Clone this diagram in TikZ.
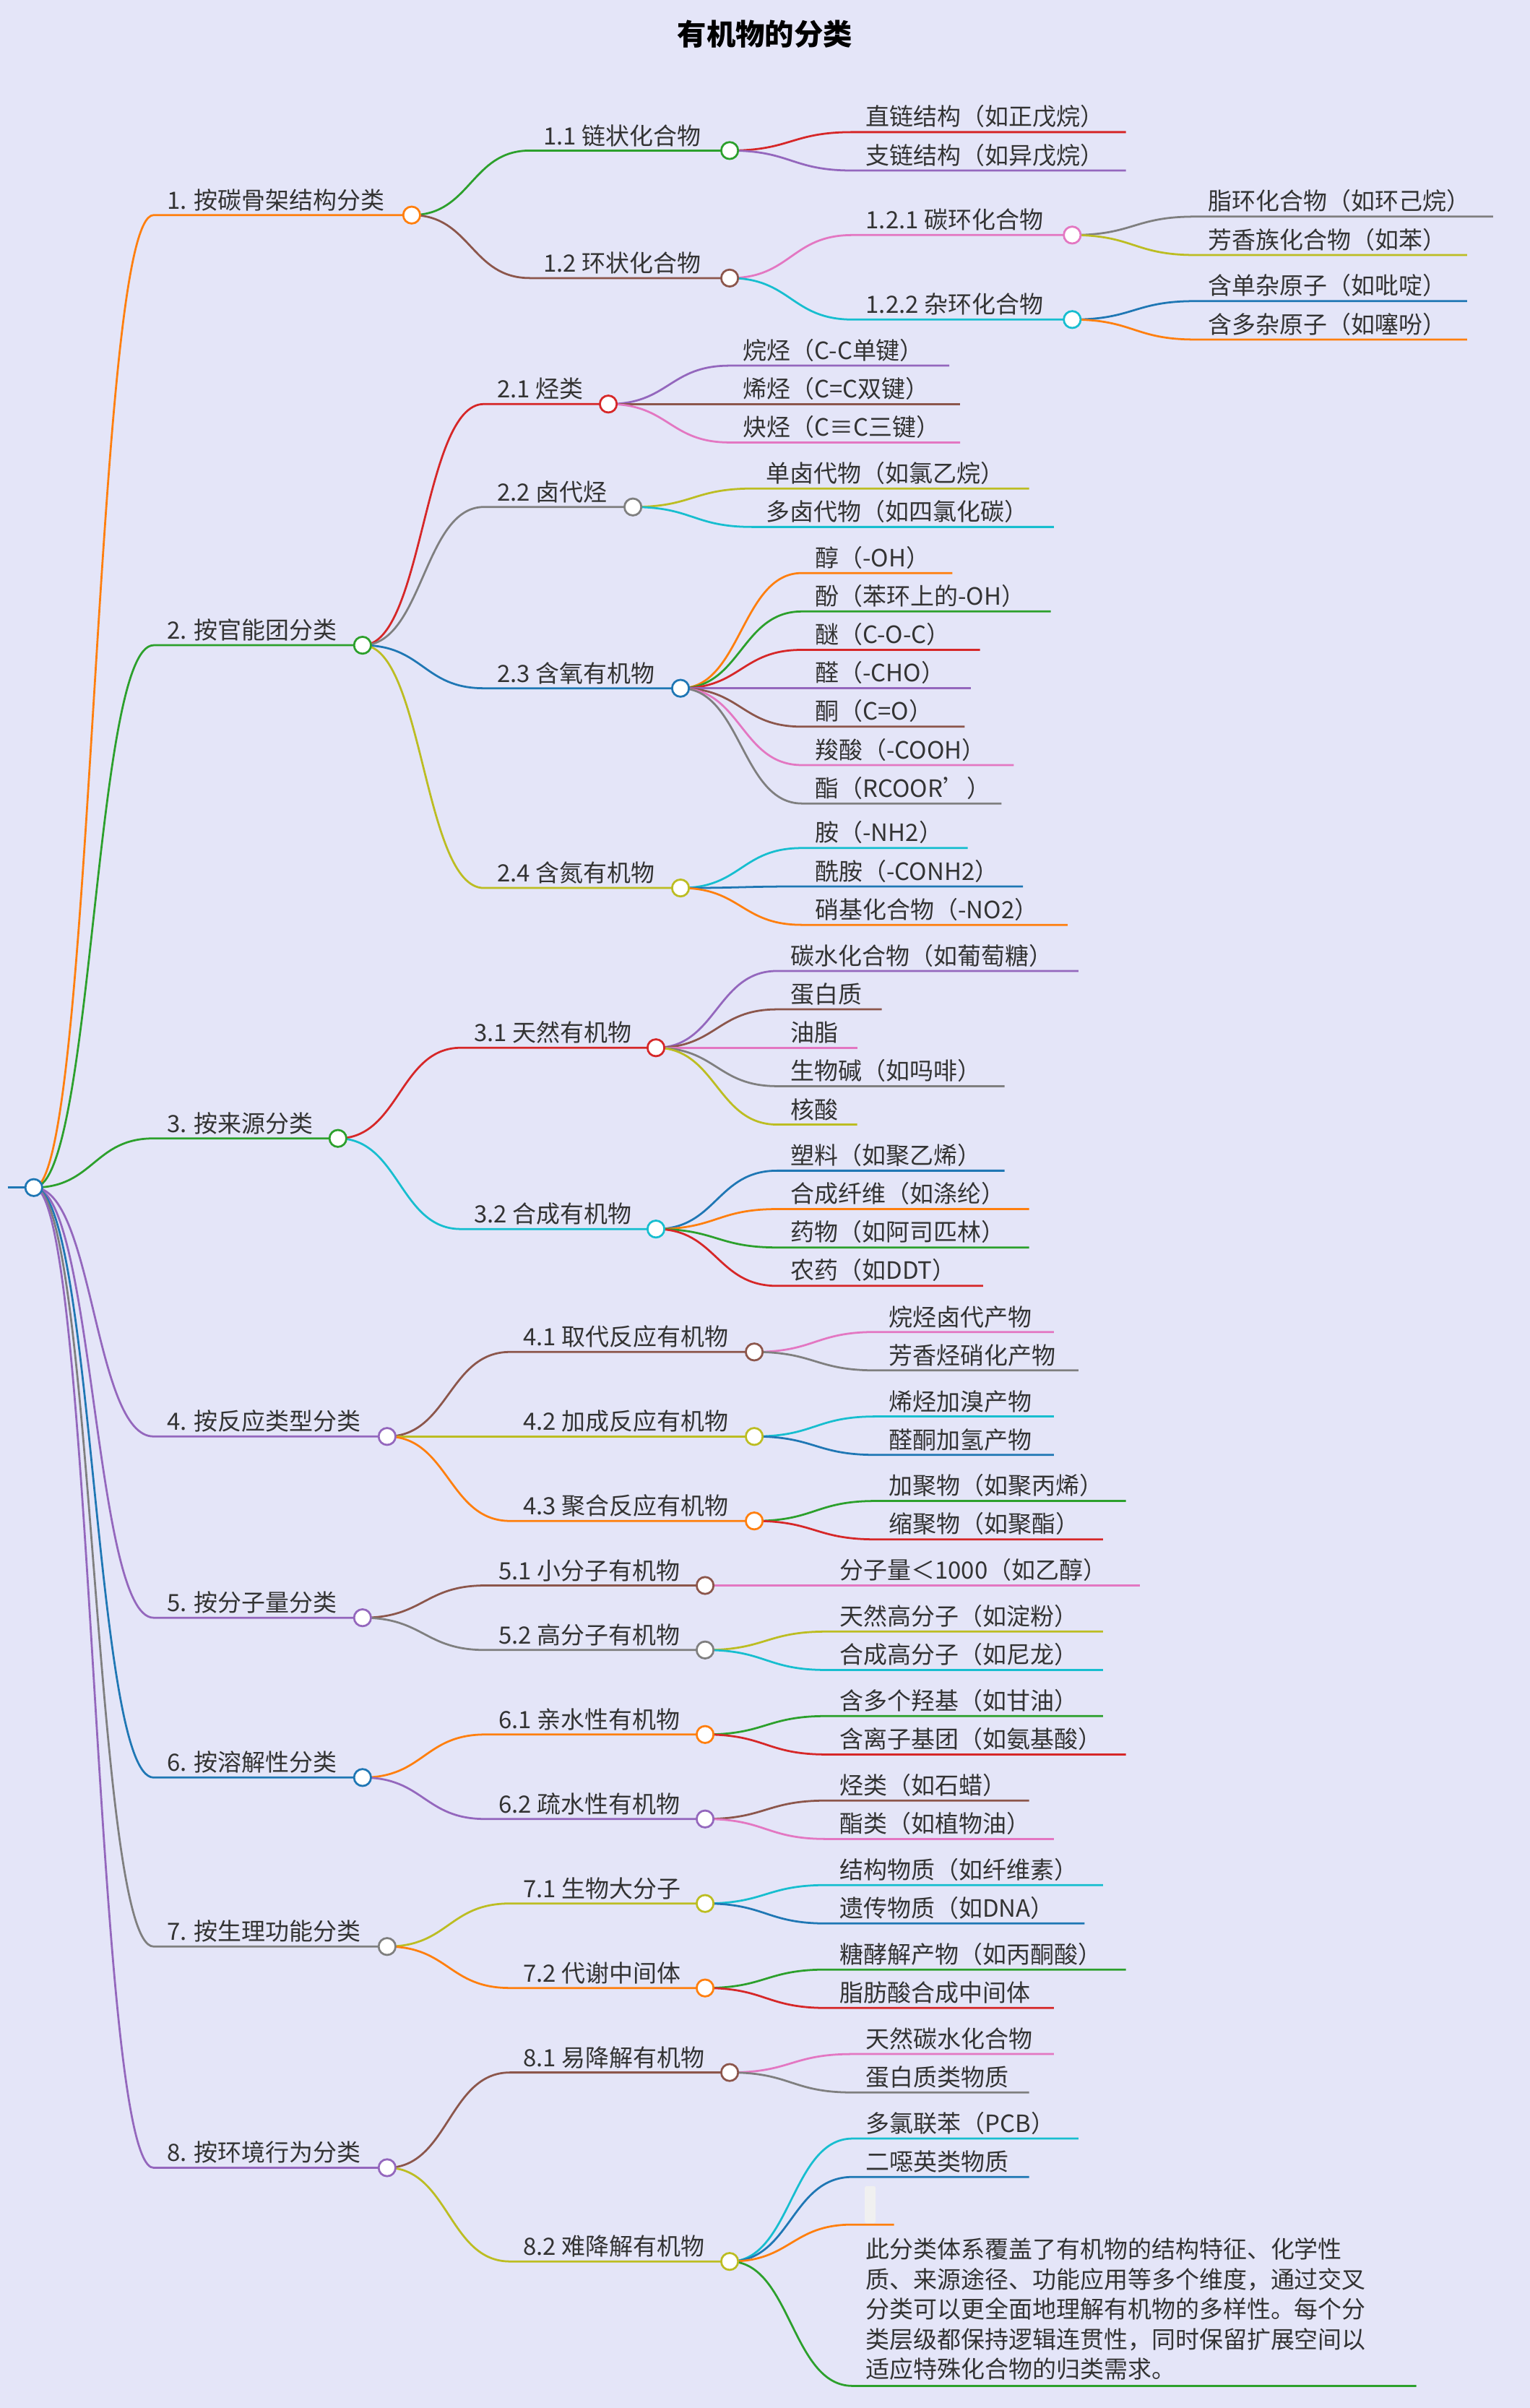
\documentclass[tikz,border=0pt]{standalone}
\usepackage{fontspec}
\setmainfont{Noto Sans CJK SC}
\usetikzlibrary{calc}
\definecolor{bg}{HTML}{E4E5F8}
\definecolor{cO}{HTML}{FF7F0E}\definecolor{cG}{HTML}{2CA02C}\definecolor{cR}{HTML}{D62728}
\definecolor{cP}{HTML}{9467BD}\definecolor{cB}{HTML}{8C564B}\definecolor{cK}{HTML}{E377C2}
\definecolor{cY}{HTML}{7F7F7F}\definecolor{cL}{HTML}{BCBD22}\definecolor{cC}{HTML}{17BECF}
\definecolor{cU}{HTML}{1F77B4}\definecolor{tx}{HTML}{333333}
\tikzset{lnk/.style={line width=1.3pt},lbl/.style={anchor=south west,inner sep=2.5pt,text=tx,font=\fontsize{15.5}{18}\selectfont},
 dot/.style={circle,fill=white,line width=1.3pt,inner sep=0pt,minimum size=11pt}}
\newcommand\mn[7]{%
 \coordinate (#1s) at (#3,#5);
 \coordinate (#1) at (#4,#5);
 \coordinate (#1m) at ($(#2)!.5!(#1s)$);
 \draw[lnk,#6] (#2) .. controls (#1m |- #2) and (#1m |- #1s) .. (#1s) -- (#1);
 \node[lbl] (#1t) at ($(#1s)+(6,0)$) {#7};}
\newcommand\mc[2]{\node[dot,draw=#2] at (#1) {};}
\begin{document}
\begin{tikzpicture}[x=1pt,y=-1pt]
\fill[bg] (0,0) rectangle (996,1567.4);
\useasboundingbox (0,0) rectangle (996,1567.4);
\node[font=\fontsize{19}{22}\selectfont\bfseries,text=black] (title) at (498,22) {有机物的分类};
\coordinate (r0) at (5,773); \coordinate (r) at (22,773);
\draw[lnk,cU] (r0) -- (r);
% level 1
\mn{a}{r}{100}{268}{140}{cO}{1. 按碳骨架结构分类}
\mn{b}{r}{100}{236}{420}{cG}{2. 按官能团分类}
\mn{c}{r}{100}{220}{741}{cG}{3. 按来源分类}
\mn{d}{r}{100}{252}{935}{cP}{4. 按反应类型分类}
\mn{e}{r}{100}{236}{1053}{cP}{5. 按分子量分类}
\mn{f}{r}{100}{236}{1157}{cU}{6. 按溶解性分类}
\mn{g}{r}{100}{252}{1267}{cY}{7. 按生理功能分类}
\mn{h}{r}{100}{252}{1411}{cP}{8. 按环境行为分类}
% 1
\mn{a1}{a}{345}{475}{98}{cG}{1.1 链状化合物}
\mn{a2}{a}{345}{475}{181}{cB}{1.2 环状化合物}
\mn{a11}{a1}{555}{733}{86}{cR}{直链结构（如正戊烷）}
\mn{a12}{a1}{555}{733}{111}{cP}{支链结构（如异戊烷）}
\mn{a21}{a2}{555}{698}{153}{cK}{1.2.1 碳环化合物}
\mn{a22}{a2}{555}{698}{208}{cC}{1.2.2 杂环化合物}
\mn{a211}{a21}{778}{972}{141}{cY}{脂环化合物（如环己烷）}
\mn{a212}{a21}{778}{955}{166}{cL}{芳香族化合物（如苯）}
\mn{a221}{a22}{778}{955}{196}{cU}{含单杂原子（如吡啶）}
\mn{a222}{a22}{778}{955}{221}{cO}{含多杂原子（如噻吩）}
% 2
\mn{b1}{b}{315}{396}{263}{cR}{2.1 烃类}
\mn{b2}{b}{315}{412}{330}{cY}{2.2 卤代烃}
\mn{b3}{b}{315}{443}{448}{cU}{2.3 含氧有机物}
\mn{b4}{b}{315}{443}{578}{cL}{2.4 含氮有机物}
\mn{b11}{b1}{475}{618}{238}{cP}{烷烃（C-C单键）}
\mn{b12}{b1}{475}{625}{263}{cB}{烯烃（C=C双键）}
\mn{b13}{b1}{475}{625}{288}{cK}{炔烃（C≡C三键）}
\mn{b21}{b2}{490}{670}{318}{cL}{单卤代物（如氯乙烷）}
\mn{b22}{b2}{490}{686}{343}{cC}{多卤代物（如四氯化碳）}
\mn{b31}{b3}{522}{620}{373}{cO}{醇（-OH）}
\mn{b32}{b3}{522}{684}{398}{cG}{酚（苯环上的-OH）}
\mn{b33}{b3}{522}{638}{423}{cR}{醚（C-O-C）}
\mn{b34}{b3}{522}{632}{448}{cP}{醛（-CHO）}
\mn{b35}{b3}{522}{628}{473}{cB}{酮（C=O）}
\mn{b36}{b3}{522}{660}{498}{cK}{羧酸（-COOH）}
\mn{b37}{b3}{522}{652}{523}{cY}{酯（RCOOR'）}
\mn{b41}{b4}{522}{630}{552}{cC}{胺（-NH2）}
\mn{b42}{b4}{522}{666}{577}{cU}{酰胺（-CONH2）}
\mn{b43}{b4}{522}{695}{602}{cO}{硝基化合物（-NO2）}
% 3
\mn{c1}{c}{300}{427}{682}{cR}{3.1 天然有机物}
\mn{c2}{c}{300}{427}{800}{cC}{3.2 合成有机物}
\mn{c11}{c1}{506}{702}{632}{cP}{碳水化合物（如葡萄糖）}
\mn{c12}{c1}{506}{574}{657}{cB}{蛋白质}
\mn{c13}{c1}{506}{558}{682}{cK}{油脂}
\mn{c14}{c1}{506}{654}{707}{cY}{生物碱（如吗啡）}
\mn{c15}{c1}{506}{558}{732}{cL}{核酸}
\mn{c21}{c2}{506}{654}{762}{cU}{塑料（如聚乙烯）}
\mn{c22}{c2}{506}{670}{787}{cO}{合成纤维（如涤纶）}
\mn{c23}{c2}{506}{670}{812}{cG}{药物（如阿司匹林）}
\mn{c24}{c2}{506}{640}{837}{cR}{农药（如DDT）}
% 4
\mn{d1}{d}{332}{491}{880}{cB}{4.1 取代反应有机物}
\mn{d2}{d}{332}{491}{935}{cL}{4.2 加成反应有机物}
\mn{d3}{d}{332}{491}{990}{cO}{4.3 聚合反应有机物}
\mn{d11}{d1}{570}{686}{867}{cK}{烷烃卤代产物}
\mn{d12}{d1}{570}{702}{892}{cY}{芳香烃硝化产物}
\mn{d21}{d2}{570}{686}{922}{cC}{烯烃加溴产物}
\mn{d22}{d2}{570}{686}{947}{cU}{醛酮加氢产物}
\mn{d31}{d3}{570}{733}{977}{cG}{加聚物（如聚丙烯）}
\mn{d32}{d3}{570}{718}{1002}{cR}{缩聚物（如聚酯）}
% 5
\mn{e1}{e}{316}{459}{1032}{cB}{5.1 小分子有机物}
\mn{e2}{e}{316}{459}{1074}{cY}{5.2 高分子有机物}
\mn{e11}{e1}{538}{742}{1032}{cK}{分子量＜1000（如乙醇）}
\mn{e21}{e2}{538}{718}{1062}{cL}{天然高分子（如淀粉）}
\mn{e22}{e2}{538}{718}{1087}{cC}{合成高分子（如尼龙）}
% 6
\mn{f1}{f}{316}{459}{1129}{cO}{6.1 亲水性有机物}
\mn{f2}{f}{316}{459}{1184}{cP}{6.2 疏水性有机物}
\mn{f11}{f1}{538}{718}{1117}{cG}{含多个羟基（如甘油）}
\mn{f12}{f1}{538}{733}{1142}{cR}{含离子基团（如氨基酸）}
\mn{f21}{f2}{538}{670}{1172}{cB}{烃类（如石蜡）}
\mn{f22}{f2}{538}{686}{1197}{cK}{酯类（如植物油）}
% 7
\mn{g1}{g}{332}{459}{1239}{cL}{7.1 生物大分子}
\mn{g2}{g}{332}{459}{1294}{cO}{7.2 代谢中间体}
\mn{g11}{g1}{538}{718}{1227}{cC}{结构物质（如纤维素）}
\mn{g12}{g1}{538}{706}{1252}{cU}{遗传物质（如DNA）}
\mn{g21}{g2}{538}{733}{1282}{cG}{糖酵解产物（如丙酮酸）}
\mn{g22}{g2}{538}{686}{1307}{cR}{脂肪酸合成中间体}
% 8
\mn{h1}{h}{332}{475}{1349}{cB}{8.1 易降解有机物}
\mn{h2}{h}{332}{475}{1472}{cL}{8.2 难降解有机物}
\mn{h11}{h1}{555}{686}{1337}{cK}{天然碳水化合物}
\mn{h12}{h1}{555}{670}{1362}{cY}{蛋白质类物质}
\mn{h21}{h2}{555}{702}{1392}{cC}{多氯联苯（PCB）}
\mn{h22}{h2}{555}{670}{1417}{cU}{二噁英类物质}
\mn{h23}{h2}{555}{582}{1448}{cO}{}
\fill[black!6,rounded corners=1pt] (563,1423) rectangle (570,1447);
\coordinate (h24s) at (555,1553); \coordinate (h24) at (922,1553);
\coordinate (h24m) at ($(h2)!.5!(h24s)$);
\draw[lnk,cG] (h2) .. controls (h24m |- h2) and (h24m |- h24s) .. (h24s) -- (h24);
\node[lbl,align=left,font=\fontsize{15.5}{19.5}\selectfont] (h24t) at ($(h24s)+(6,-1)$) {此分类体系覆盖了有机物的结构特征、化学性\\质、来源途径、功能应用等多个维度，通过交叉\\分类可以更全面地理解有机物的多样性。每个分\\类层级都保持逻辑连贯性，同时保留扩展空间以\\适应特殊化合物的归类需求。};
% circles
\mc{r}{cU}
\mc{a}{cO}\mc{b}{cG}\mc{c}{cG}\mc{d}{cP}\mc{e}{cP}\mc{f}{cU}\mc{g}{cY}\mc{h}{cP}
\mc{a1}{cG}\mc{a2}{cB}\mc{a21}{cK}\mc{a22}{cC}
\mc{b1}{cR}\mc{b2}{cY}\mc{b3}{cU}\mc{b4}{cL}
\mc{c1}{cR}\mc{c2}{cC}
\mc{d1}{cB}\mc{d2}{cL}\mc{d3}{cO}
\mc{e1}{cB}\mc{e2}{cY}\mc{f1}{cO}\mc{f2}{cP}
\mc{g1}{cL}\mc{g2}{cO}\mc{h1}{cB}\mc{h2}{cL}
\end{tikzpicture}
\end{document}
